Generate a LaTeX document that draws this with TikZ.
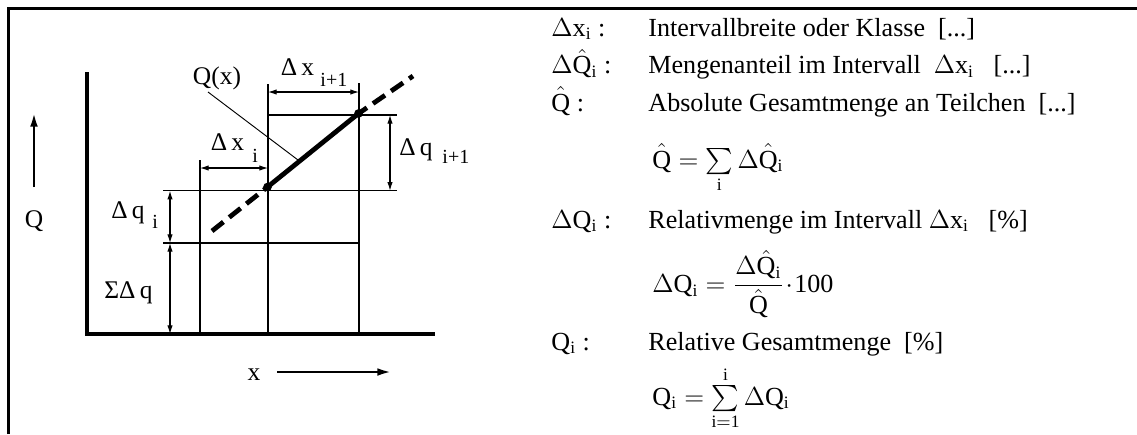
\documentclass[tikz,border=0pt]{standalone}
\usepackage{amsmath}
\usepackage{fontspec}
\setmainfont{Liberation Serif}
\usepackage{tikz}
\usetikzlibrary{arrows.meta}
\newcommand{\Qhat}{\hat{\mathrm{Q}}}
\tikzset{
  frameline/.style={line width=1.45pt},
  axisline/.style={line width=1.45pt},
  gridline/.style={line width=0.48pt},
  dimarrow/.style={{Latex[length=4pt,width=2.5pt]}-{Latex[length=4pt,width=2.5pt]}, line width=0.48pt},
  dirarrow/.style={-{Latex[length=6.7pt,width=3.5pt]}, line width=1.25pt},
  curvesolid/.style={line width=2.2pt},
  curvedash/.style={line width=2.2pt, dash pattern=on 6.7pt off 3.4pt},
  leader/.style={line width=0.43pt},
  lbl/.style={font=\fontsize{11.7pt}{14pt}\selectfont, inner sep=0pt, anchor=base},
  sublbl/.style={font=\fontsize{9.2pt}{11pt}\selectfont, inner sep=0pt, anchor=base west},
  keytext/.style={font=\large, inner sep=0pt, anchor=base west}
}

\begin{document}
\begin{tikzpicture}[x=0.46pt, y=-0.46pt]
  \useasboundingbox (0,0) rectangle (1137,434);

  % Frame
  \draw[frameline] (8.5,434) -- (8.5,8.5) -- (1137,8.5);

  % Axes
  \coordinate (O) at (87,334);
  \coordinate (ytop) at (87,72);
  \coordinate (xend) at (435,334);
  \draw[axisline] (ytop) -- (O) -- (xend);

  % Direction arrows
  \coordinate (qfrom) at (34,187);
  \coordinate (qto) at (34,112);
  \draw[dirarrow] (qfrom) -- (qto);
  \node[lbl] (qlabel) at (34,227) {Q};
  \coordinate (xfrom) at (277,372);
  \coordinate (xto) at (392,372);
  \draw[dirarrow] (xfrom) -- (xto);
  \node[lbl] (xlabel) at (254,380) {x};

  % Grid lines
  \coordinate (v1) at (200,160);
  \coordinate (v2) at (268,84);
  \coordinate (v3) at (359,83);
  \draw[gridline] (v1) -- (v1 |- O);
  \draw[gridline] (v2) -- (v2 |- O);
  \draw[gridline] (v3) -- (v3 |- O);
  \coordinate (h1l) at (268,115);
  \coordinate (h1r) at (397,115);
  \coordinate (h2l) at (163,190.7);
  \coordinate (h2r) at (397,190.7);
  \coordinate (h3l) at (163,243);
  \coordinate (h3r) at (359,243);
  \draw[gridline] (h1l) -- (h1r);
  \draw[gridline] (h2l) -- (h2r);
  \draw[gridline] (h3l) -- (h3r);

  % Dimension arrows
  \draw[dimarrow] (200,168) -- (268,168);
  \draw[dimarrow] (268,92) -- (359,92);
  \draw[dimarrow] (390,115) -- (390,190.7);
  \draw[dimarrow] (170,190.7) -- (170,243);
  \draw[dimarrow] (170,243) -- (170,334);

  % Curve Q(x)
  \coordinate (c0) at (212,231);
  \coordinate (p1) at (267.5,187);
  \coordinate (p2) at (358.5,113.5);
  \coordinate (c3) at (413,76);
  \draw[curvedash] (c0) -- (p1);
  \draw[curvesolid] (p1) -- (p2);
  \draw[curvedash, dash phase=2pt] (p2) -- (c3);
  \fill (p1) circle (2pt);
  \fill (p2) circle (2pt);

  % Labels
  \node[lbl] (qx) at (217,84) {Q(x)};
  \coordinate (lead) at (208,92);
  \coordinate (leadend) at (298,160);
  \draw[leader] (lead) -- (leadend);
  \node[lbl] (dxi) at (227.5,150) {Δ\,x};
  \node[sublbl] (dxisub) at (252,162) {i};
  \node[lbl] (dxn) at (297.5,75) {Δ\,x};
  \node[sublbl] (dxnsub) at (320,86) {i+1};
  \node[lbl] (dqn) at (416,155) {Δ\,q};
  \node[sublbl] (dqnsub) at (442,163) {i+1};
  \node[lbl] (dqi) at (128,218) {Δ\,q};
  \node[sublbl] (dqisub) at (152,228) {i};
  \node[lbl] (sdq) at (128.5,298) {ΣΔ\,q};

  % Legend
  \node[keytext] (k1) at (551,36) {$\Delta\mathrm{x_i}$ :};
  \node[keytext] (t1) at (648,36) {Intervallbreite oder Klasse~~[...]};
  \node[keytext] (k2) at (551,73.5) {$\Delta\Qhat_{\mathrm{i}}$ :};
  \node[keytext] (t2) at (648,73.5) {Mengenanteil im Intervall~~$\Delta\mathrm{x_i}$~~~[...]};
  \node[keytext] (k3) at (551,111) {$\Qhat$ :};
  \node[keytext] (t3) at (648,111) {Absolute Gesamtmenge an Teilchen~~[...]};
  \node[keytext] (f1) at (652,168) {$\Qhat = \sum\limits_{\mathrm{i}}\Delta\Qhat_{\mathrm{i}}$};
  \node[keytext] (k4) at (551,228) {$\Delta\mathrm{Q_i}$ :};
  \node[keytext] (t4) at (648,228) {Relativmenge im Intervall $\Delta\mathrm{x_i}$~~~[\%]};
  \node[keytext, anchor=west] (f2) at (652,284) {$\Delta\mathrm{Q_i} = \dfrac{\Delta\Qhat_{\mathrm{i}}}{\Qhat}\!\cdot\!\mathrm{100}$};
  \node[keytext] (k5) at (551,350) {$\mathrm{Q_i}$ :};
  \node[keytext] (t5) at (648,350) {Relative Gesamtmenge~~[\%]};
  \node[keytext] (f3) at (652,405) {$\mathrm{Q_i} = \sum\limits_{\mathrm{i=1}}^{\mathrm{i}}\Delta\mathrm{Q_i}$};
\end{tikzpicture}
\end{document}
